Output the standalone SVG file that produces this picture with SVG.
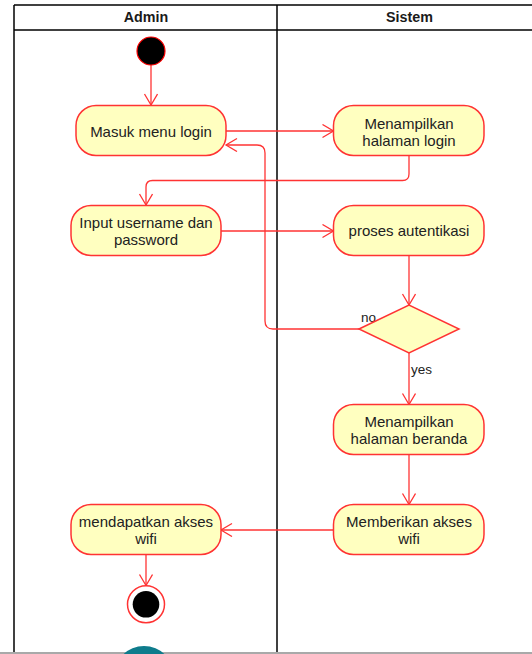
<svg xmlns="http://www.w3.org/2000/svg" width="532" height="654" viewBox="0 0 532 654">
<style>
.frame{stroke:#000;stroke-width:1.5;fill:none}
.hdr{font-family:"Liberation Sans",Arial,sans-serif;font-size:14.3px;font-weight:bold;fill:#1a1a1a;text-anchor:middle}
.act{fill:#ffffc0;stroke:#ff3333;stroke-width:1.5}
.lbl{font-family:"Liberation Sans",Arial,sans-serif;font-size:15px;fill:#222;text-anchor:middle}
.edge{fill:none;stroke:#ff3333;stroke-width:1.3}
.elbl{font-family:"Liberation Sans",Arial,sans-serif;font-size:13.5px;fill:#222}
</style>
<defs>
<marker id="arr" markerWidth="14" markerHeight="16" refX="12" refY="7" orient="auto" markerUnits="userSpaceOnUse">
<path d="M1,0.5 L12,7 L1,13.5" fill="none" stroke="#ff3333" stroke-width="1.3"/>
</marker>
</defs>
<rect width="532" height="654" fill="#fff"/>
<g id="swimlanes">
<line class="frame" x1="14" y1="5" x2="540" y2="5"/>
<line class="frame" x1="14" y1="30" x2="540" y2="30"/>
<line class="frame" x1="14" y1="5" x2="14" y2="652"/>
<line class="frame" x1="277" y1="5" x2="277" y2="652"/>
<text class="hdr" x="146" y="22">Admin</text>
<text class="hdr" x="409.5" y="22">Sistem</text>
</g>
<g id="connectors">
<line class="edge" x1="151" y1="65" x2="151" y2="105" marker-end="url(#arr)"/>
<line class="edge" x1="226" y1="131" x2="333.5" y2="131" marker-end="url(#arr)"/>
<path class="edge" d="M409,155.5 V174 Q409,180.5 402.5,180.5 H152.5 Q146,180.5 146,187 V205" marker-end="url(#arr)"/>
<line class="edge" x1="221" y1="231" x2="333.5" y2="231" marker-end="url(#arr)"/>
<line class="edge" x1="409" y1="256" x2="409" y2="305" marker-end="url(#arr)"/>
<line class="edge" x1="409" y1="353" x2="409" y2="404.5" marker-end="url(#arr)"/>
<path class="edge" d="M359,329 H273 Q265,329 265,321 V153 Q265,145 257,145 H226" marker-end="url(#arr)"/>
<line class="edge" x1="409" y1="454.5" x2="409" y2="504.5" marker-end="url(#arr)"/>
<line class="edge" x1="333.5" y1="530" x2="221" y2="530" marker-end="url(#arr)"/>
<line class="edge" x1="146" y1="555" x2="146" y2="585.5" marker-end="url(#arr)"/>
<rect x="360" y="311" width="17" height="14" fill="#fff"/>
<text class="elbl" x="361" y="322">no</text>
<text class="elbl" x="411" y="374">yes</text>
</g>
<g id="start">
<circle cx="151" cy="51" r="14" fill="#000" stroke="#ff0000" stroke-width="1.2"/>
</g>
<g id="masuk">
<rect class="act" x="76" y="105.5" width="150" height="50" rx="20"/>
<text class="lbl" x="151" y="136.5">Masuk menu login</text>
</g>
<g id="tampil-login">
<rect class="act" x="333.5" y="105.5" width="150.5" height="50" rx="20"/>
<text class="lbl" x="409" y="128.5">Menampilkan</text>
<text class="lbl" x="409" y="145.5">halaman login</text>
</g>
<g id="input">
<rect class="act" x="71" y="205.5" width="150" height="50" rx="20"/>
<text class="lbl" x="146" y="227.5">Input username dan</text>
<text class="lbl" x="146" y="244.5">password</text>
</g>
<g id="proses">
<rect class="act" x="333.5" y="205.5" width="150.5" height="50" rx="20"/>
<text class="lbl" x="409" y="236">proses autentikasi</text>
</g>
<g id="decision">
<polygon class="act" points="359,329 409,305 459,329 409,353"/>
</g>
<g id="tampil-beranda">
<rect class="act" x="333.5" y="404.5" width="150.5" height="50" rx="20"/>
<text class="lbl" x="409" y="426.5">Menampilkan</text>
<text class="lbl" x="409" y="443.5">halaman beranda</text>
</g>
<g id="memberikan">
<rect class="act" x="333.5" y="504.5" width="150.5" height="50" rx="20"/>
<text class="lbl" x="409" y="527">Memberikan akses</text>
<text class="lbl" x="409" y="544">wifi</text>
</g>
<g id="mendapatkan">
<rect class="act" x="71" y="504.5" width="150" height="50" rx="20"/>
<text class="lbl" x="146" y="527">mendapatkan akses</text>
<text class="lbl" x="146" y="544">wifi</text>
</g>
<g id="end">
<circle cx="146" cy="604.3" r="18.5" fill="#fff" stroke="#ff3333" stroke-width="1.5"/>
<circle cx="146" cy="604.3" r="13.3" fill="#000"/>
</g>
<rect x="0" y="652" width="532" height="2" fill="#a9a9a9"/>
<circle cx="144" cy="676" r="30" fill="#0e7c8c"/>
</svg>
